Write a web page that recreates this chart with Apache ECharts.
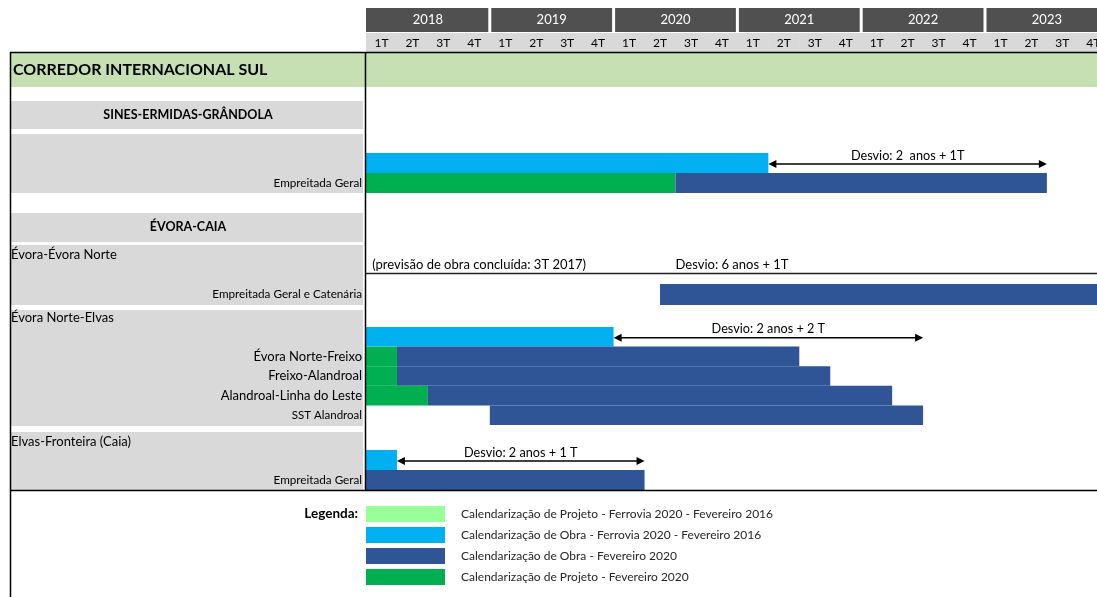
<!DOCTYPE html>
<html><head><meta charset="utf-8">
<script src="https://cdn.jsdelivr.net/npm/echarts@6/dist/echarts.min.js"></script>
<style>html,body{margin:0;padding:0;background:#fff}#c{width:1097px;height:597px}</style>
</head><body><div id="c"></div>
<script>
// ---------- DATA ----------
const yearLabels = ['2018', '2019', '2020', '2021', '2022', '2023'];
const quarterLabels = ['1T', '2T', '3T', '4T'];
const legendNames = [
  'Calendarização de Projeto - Ferrovia 2020 - Fevereiro 2016',
  'Calendarização de Obra - Ferrovia 2020 - Fevereiro 2016',
  'Calendarização de Obra - Fevereiro 2020',
  'Calendarização de Projeto - Fevereiro 2020'
];
// bars: [row, startQuarter, endQuarter, legendIndex]  (quarter 0 = 1T 2018)
const sinesRows = ['', 'Empreitada Geral'];
const sinesBars = [[0, 0, 13, 1], [1, 0, 10, 3], [1, 10, 22, 2]];
const sinesArrows = [[0, 13, 22, 'Desvio: 2  anos + 1T']];

const evoraRows = ['', 'Empreitada Geral e Catenária'];
const evoraBars = [[1, 9.5, 24, 2]];
const evoraLines = [[0, -2, 24]];
const evoraNotes = [[0, 0.2, '(previsão de obra concluída: 3T 2017)'], [0, 10, 'Desvio: 6 anos + 1T']];

const eneRows = ['', 'Évora Norte-Freixo', 'Freixo-Alandroal', 'Alandroal-Linha do Leste', 'SST Alandroal'];
const eneBars = [[0, 0, 8, 1], [1, 0, 1, 3], [1, 1, 14, 2], [2, 0, 1, 3], [2, 1, 15, 2],
                 [3, 0, 2, 3], [3, 2, 17, 2], [4, 4, 18, 2]];
const eneArrows = [[0, 8, 18, 'Desvio: 2 anos + 2 T']];

const elvasRows = ['', 'Empreitada Geral'];
const elvasBars = [[0, 0, 1, 1], [1, 0, 9, 2]];
const elvasArrows = [[0, 1, 9, 'Desvio: 2 anos + 1 T']];

// ---------- STYLE / LAYOUT ----------
const FONT = 'Lato, "Open Sans", sans-serif';
const COLORS = ['#99ff99', '#00b0f0', '#2f5597', '#00b050'];
const GRAY = '#d9d9d9';
const LEFT = 366;
const QW = 30.95;
const VIEW_Q = (1097 - LEFT) / QW; // visible quarters
const chart = echarts.init(document.getElementById('c'));

const grids = [
  { top: 8, height: 24 },   // 0 years
  { top: 33, height: 19 },  // 1 quarters
  { top: 153, height: 40 }, // 2 sines
  { top: 263, height: 42 }, // 3 evora-evora norte
  { top: 327, height: 98 }, // 4 evora norte-elvas
  { top: 450, height: 40 }  // 5 elvas-fronteira
].map(g => ({ left: LEFT, right: 0, top: g.top, height: g.height, containLabel: false, outerBoundsMode: 'none' }));

const rowSets = [['y'], ['q'], sinesRows, evoraRows, eneRows, elvasRows];
const labelSize = { 'Empreitada Geral': 11.7, 'Empreitada Geral e Catenária': 11.7, 'SST Alandroal': 11.5 };
const xAxes = grids.map((g, i) => ({ gridIndex: i, type: 'value', min: 0, max: VIEW_Q, show: false }));
const yAxes = rowSets.map((rows, i) => ({
  gridIndex: i, type: 'category', inverse: true,
  data: rows.map(r => ({ value: r, textStyle: { fontSize: labelSize[r] || 13 } })),
  axisLine: { show: false }, axisTick: { show: false }, splitLine: { show: false },
  axisLabel: { show: i >= 2, margin: 4, color: '#000', fontFamily: FONT, fontSize: 13, interval: 0 }
}));

function barSeries(gi, bars) {
  return {
    type: 'custom', xAxisIndex: gi, yAxisIndex: gi, silent: true, z: 3,
    encode: { x: [1, 2], y: 0 },
    data: bars.map(b => [b[0], b[1], b[2]]),
    renderItem: (params, api) => {
      const row = api.value(0);
      const p0 = api.coord([Math.max(api.value(1), 0), row]);
      const p1 = api.coord([api.value(2), row]);
      const h = api.size([0, 1])[1];
      return { type: 'rect', shape: { x: p0[0], y: p0[1] - h / 2, width: p1[0] - p0[0], height: h },
               style: { fill: COLORS[bars[params.dataIndex][3]] } };
    }
  };
}
function arrowSeries(gi, arrows) {
  return {
    type: 'custom', xAxisIndex: gi, yAxisIndex: gi, silent: true, z: 4,
    encode: { x: [1, 2], y: 0 },
    data: arrows.map(a => [a[0], a[1], a[2]]),
    renderItem: (params, api) => {
      const row = api.value(0);
      const p0 = api.coord([api.value(1), row]);
      const p1 = api.coord([api.value(2), row]);
      const y = p0[1] + 1;
      return { type: 'group', children: [
        { type: 'line', shape: { x1: p0[0] + 4, y1: y, x2: p1[0] - 4, y2: y }, style: { stroke: '#000', lineWidth: 1.5 } },
        { type: 'polygon', shape: { points: [[p0[0], y], [p0[0] + 8, y - 4], [p0[0] + 8, y + 4]] }, style: { fill: '#000' } },
        { type: 'polygon', shape: { points: [[p1[0], y], [p1[0] - 8, y - 4], [p1[0] - 8, y + 4]] }, style: { fill: '#000' } },
        { type: 'text', style: { text: arrows[params.dataIndex][3], x: (p0[0] + p1[0]) / 2, y: y - 2,
            align: 'center', verticalAlign: 'bottom', fontFamily: FONT, fontSize: 12.7, fill: '#000' } }
      ] };
    }
  };
}
function plainLineSeries(gi, lines) {
  return {
    type: 'custom', xAxisIndex: gi, yAxisIndex: gi, silent: true, z: 4,
    encode: { x: [1, 2], y: 0 },
    data: lines.map(a => [a[0], a[1], a[2]]),
    renderItem: (params, api) => {
      const row = api.value(0);
      const p0 = api.coord([Math.max(api.value(1), 0), row]);
      const p1 = api.coord([api.value(2), row]);
      return { type: 'line', shape: { x1: p0[0], y1: p0[1], x2: p1[0], y2: p1[1] }, style: { stroke: '#222', lineWidth: 1.5 } };
    }
  };
}
function noteSeries(gi, notes) {
  return {
    type: 'custom', xAxisIndex: gi, yAxisIndex: gi, silent: true, z: 4,
    encode: { x: 1, y: 0 },
    data: notes.map(n => [n[0], n[1]]),
    renderItem: (params, api) => {
      const p = api.coord([api.value(1), api.value(0)]);
      return { type: 'text', style: { text: notes[params.dataIndex][2], x: p[0], y: p[1] - 2,
          align: 'left', verticalAlign: 'bottom', fontFamily: FONT, fontSize: 13, fill: '#000' } };
    }
  };
}

const yearSeries = {
  type: 'custom', xAxisIndex: 0, yAxisIndex: 0, silent: true, z: 3,
  encode: { x: [0, 1], y: 2 },
  data: yearLabels.map((y, i) => [i * 4, i * 4 + 4, 0]),
  renderItem: (params, api) => {
    const p0 = api.coord([api.value(0), 0]);
    const p1 = api.coord([api.value(1), 0]);
    const h = api.size([0, 1])[1];
    const x0 = p0[0] + (params.dataIndex > 0 ? 1.5 : 0);
    return { type: 'group', children: [
      { type: 'rect', shape: { x: x0, y: p0[1] - h / 2, width: p1[0] - 1.5 - x0, height: h }, style: { fill: '#505050' } },
      { type: 'text', style: { text: yearLabels[params.dataIndex], x: (p0[0] + p1[0]) / 2, y: p0[1],
          align: 'center', verticalAlign: 'middle', fontFamily: FONT, fontSize: 13, fill: '#fff' } }
    ] };
  }
};
const allQuarters = yearLabels.flatMap(() => quarterLabels);
const quarterSeries = {
  type: 'custom', xAxisIndex: 1, yAxisIndex: 1, silent: true, z: 3,
  encode: { x: [0, 1], y: 2 },
  data: allQuarters.map((q, i) => [i, i + 1, 0]),
  renderItem: (params, api) => {
    const p0 = api.coord([api.value(0), 0]);
    const p1 = api.coord([api.value(1), 0]);
    const h = api.size([0, 1])[1];
    return { type: 'group', children: [
      { type: 'rect', shape: { x: p0[0], y: p0[1] - h / 2, width: p1[0] - p0[0] + 0.5, height: h }, style: { fill: GRAY } },
      { type: 'text', style: { text: allQuarters[params.dataIndex], x: (p0[0] + p1[0]) / 2, y: p0[1] + 1,
          align: 'center', verticalAlign: 'middle', fontFamily: FONT, fontSize: 12, fill: '#000' } }
    ] };
  }
};

const legendSeries = legendNames.map((n, i) => ({
  type: 'custom', name: n, xAxisIndex: 0, yAxisIndex: 0, data: [],
  itemStyle: { color: COLORS[i] }, renderItem: () => null
}));

// decorations
const G = [];
const grayRect = (y, h) => G.push({ type: 'rect', shape: { x: 10, y, width: 353, height: h }, style: { fill: GRAY }, z: -10 });
[[101, 28], [134, 59], [213, 29], [245, 60], [310, 116], [432, 58]].forEach(r => grayRect(r[0], r[1]));
G.push({ type: 'rect', shape: { x: 10, y: 53, width: 1087, height: 34 }, style: { fill: '#c6e0b4' }, z: -10 });
const txt = (text, x, y, size, bold, align) => G.push({ type: 'text', x, y, z: 50,
  style: { text, fontFamily: FONT, fontSize: size, fontWeight: bold ? 'bold' : 'normal', fill: '#000',
           align: align || 'left', verticalAlign: 'middle' } });
txt('CORREDOR INTERNACIONAL SUL', 13, 70, 16, true);
txt('SINES-ERMIDAS-GRÂNDOLA', 188, 115, 12.5, true, 'center');
txt('ÉVORA-CAIA', 188, 227, 12.5, true, 'center');
txt('Évora-Évora Norte', 11, 255, 13);
txt('Évora Norte-Elvas', 11, 318, 13);
txt('Elvas-Fronteira (Caia)', 11, 442, 13);
txt('Legenda:', 358, 514, 13.5, true, 'right');
const ln = (x1, y1, x2, y2, w) => G.push({ type: 'line', z: 60, shape: { x1, y1, x2, y2 }, style: { stroke: '#000', lineWidth: w || 1.5 } });
ln(365.5, 52, 365.5, 490);
ln(10.5, 52, 10.5, 597);
ln(10, 52.5, 1097, 52.5);
ln(10, 490.5, 1097, 490.5);

chart.setOption({
  animation: false,
  grid: grids, xAxis: xAxes, yAxis: yAxes,
  graphic: { elements: G },
  legend: {
    orient: 'vertical', left: 366, top: 506, padding: 0, itemWidth: 79, itemHeight: 16, itemGap: 5,
    icon: 'rect', selectedMode: false,
    data: legendNames.map((n, i) => ({ name: n, itemStyle: { color: COLORS[i] } })),
    textStyle: { fontFamily: FONT, fontSize: 12, color: '#262626', padding: [0, 0, 0, 11] }
  },
  series: [
    yearSeries, quarterSeries,
    barSeries(2, sinesBars), arrowSeries(2, sinesArrows),
    plainLineSeries(3, evoraLines), noteSeries(3, evoraNotes), barSeries(3, evoraBars),
    barSeries(4, eneBars), arrowSeries(4, eneArrows),
    barSeries(5, elvasBars), arrowSeries(5, elvasArrows),
    ...legendSeries
  ]
});
</script></body></html>
